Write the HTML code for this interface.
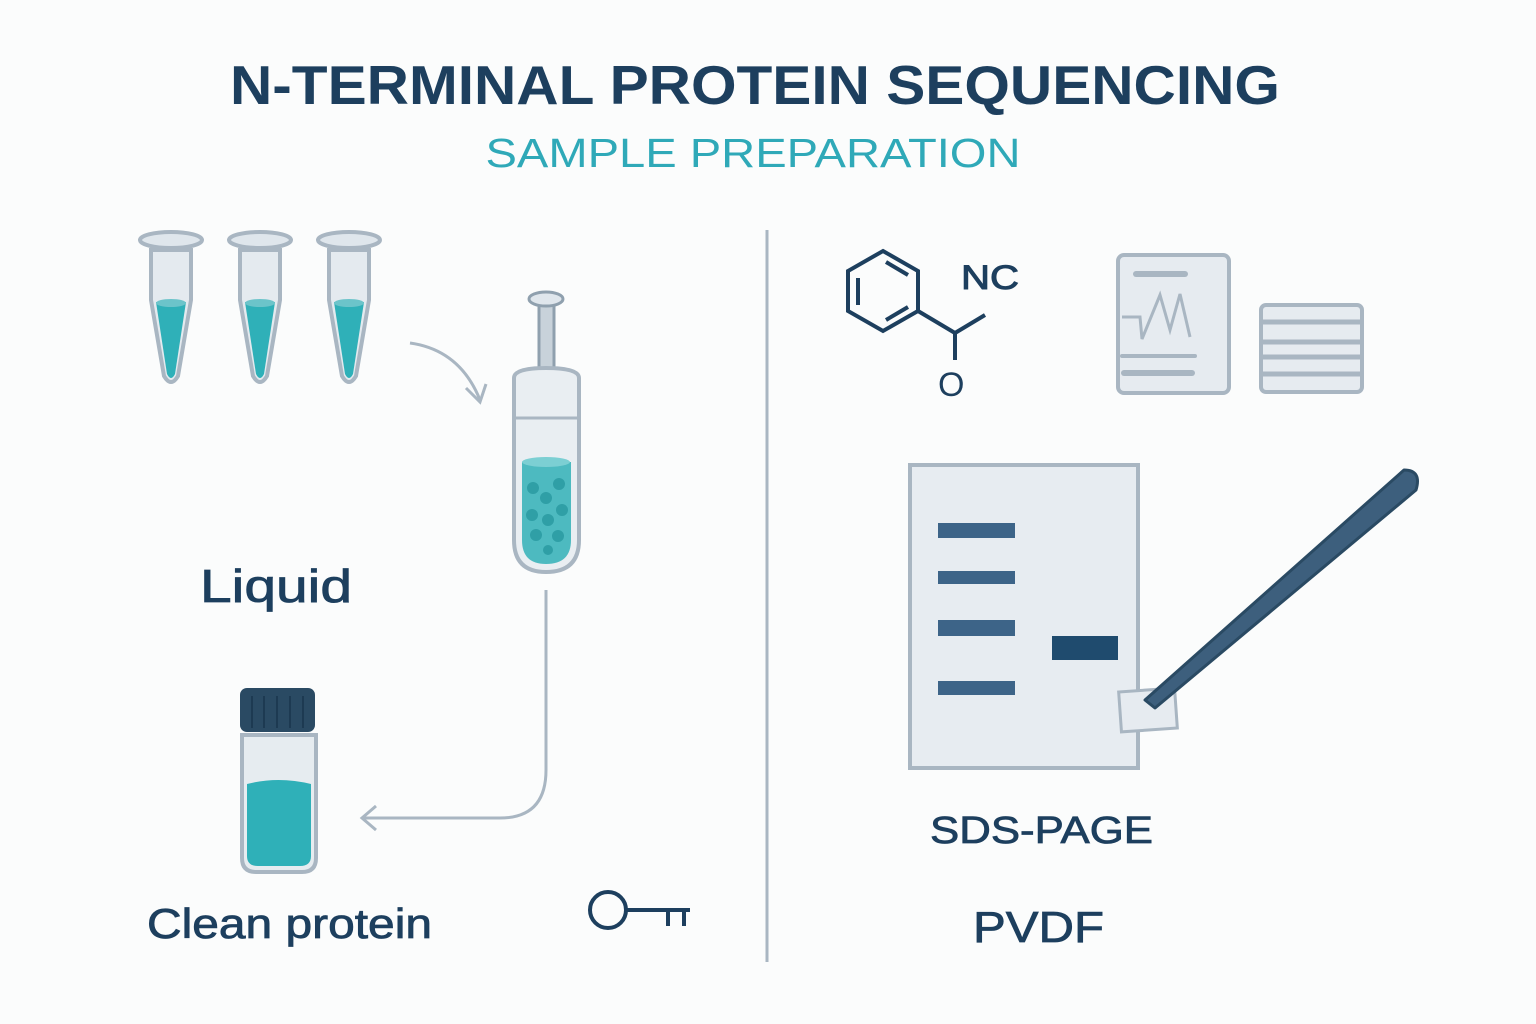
<!DOCTYPE html>
<html><head><meta charset="utf-8"><style>
html,body{margin:0;padding:0;background:#fbfcfc;}
svg{display:block;}
text{font-family:"Liberation Sans",sans-serif;}
</style></head><body>
<svg width="1536" height="1024" viewBox="0 0 1536 1024" xmlns="http://www.w3.org/2000/svg">
<rect width="1536" height="1024" fill="#fbfcfc"/>
<text x="755" y="104" text-anchor="middle" font-size="55" font-weight="bold" fill="#1d3f5e" textLength="1050" lengthAdjust="spacingAndGlyphs">N-TERMINAL PROTEIN SEQUENCING</text>
<text x="753" y="167" text-anchor="middle" font-size="41" fill="#2fa9b8" textLength="535" lengthAdjust="spacingAndGlyphs">SAMPLE PREPARATION</text>
<line x1="767" y1="230" x2="767" y2="962" stroke="#a9b6c2" stroke-width="3"/>

<!-- tubes -->
<g id="tube">
<path d="M151 250 L151 300 L164 376 Q171 388 178 376 L191 300 L191 250 Z" fill="#e4eaef" stroke="#a9b6c2" stroke-width="4"/>
<path d="M156 302 L186 302 L175 374 Q171 382 167 374 Z" fill="#2fb0b8"/>
<ellipse cx="171" cy="303" rx="15" ry="4" fill="#6cc4ca"/>
<ellipse cx="171" cy="240" rx="31" ry="8" fill="#dfe6ec" stroke="#a9b6c2" stroke-width="4"/>
</g>
<use href="#tube" x="89"/>
<use href="#tube" x="178"/>

<!-- arrow to syringe -->
<path d="M410 343 Q460 350 480 400" fill="none" stroke="#a9b6c2" stroke-width="3"/>
<path d="M466 388 L480 402 L486 384" fill="none" stroke="#a9b6c2" stroke-width="3"/>

<!-- syringe -->
<rect x="539" y="303" width="15" height="78" fill="#c8d2da" stroke="#8fa0ae" stroke-width="3"/>
<ellipse cx="546" cy="299" rx="17" ry="7" fill="#dfe6ec" stroke="#8fa0ae" stroke-width="3"/>
<path d="M514 378 L514 540 Q514 572 546 572 Q579 572 579 540 L579 378 Q579 368 546 368 Q514 368 514 378 Z" fill="#e9eef2" stroke="#a9b6c2" stroke-width="4"/>
<line x1="514" y1="418" x2="579" y2="418" stroke="#a9b6c2" stroke-width="3"/>
<path d="M522 462 L571 462 L571 540 Q571 564 546 564 Q522 564 522 540 Z" fill="#4dbac0"/>
<ellipse cx="546" cy="462" rx="24" ry="5" fill="#7ccfd3"/>
<g fill="#2f9fa6"><circle cx="533" cy="488" r="6"/><circle cx="559" cy="484" r="6"/><circle cx="546" cy="498" r="6"/><circle cx="562" cy="510" r="6"/><circle cx="532" cy="515" r="6"/><circle cx="548" cy="520" r="6"/><circle cx="536" cy="535" r="6"/><circle cx="558" cy="536" r="6"/><circle cx="548" cy="550" r="5"/></g>

<!-- line to bottle -->
<path d="M546 590 L546 770 Q546 818 500 818 L362 818" fill="none" stroke="#a9b6c2" stroke-width="3"/>
<path d="M376 806 L362 818 L376 830" fill="none" stroke="#a9b6c2" stroke-width="3"/>

<!-- bottle -->
<path d="M242 735 L242 858 Q242 872 256 872 L302 872 Q316 872 316 858 L316 735 Z" fill="#e6ecf0" stroke="#a9b6c2" stroke-width="4"/>
<path d="M247 784 Q278 776 311 784 L311 856 Q311 866 300 866 L258 866 Q247 866 247 856 Z" fill="#2fb0b8"/>
<rect x="240" y="688" width="75" height="44" rx="7" fill="#2a4a63"/>
<g stroke="#1d3a52" stroke-width="2"><line x1="252" y1="696" x2="252" y2="728"/><line x1="264" y1="696" x2="264" y2="728"/><line x1="277" y1="696" x2="277" y2="728"/><line x1="290" y1="696" x2="290" y2="728"/><line x1="303" y1="696" x2="303" y2="728"/></g>

<text x="200" y="602" font-size="46" fill="#1d3f5e" stroke="#1d3f5e" stroke-width="0.8" textLength="152" lengthAdjust="spacingAndGlyphs">Liquid</text>
<text x="147" y="938" font-size="42" fill="#1d3f5e" stroke="#1d3f5e" stroke-width="0.8" textLength="285" lengthAdjust="spacingAndGlyphs">Clean protein</text>

<!-- key -->
<circle cx="608" cy="910" r="18" fill="none" stroke="#1d3f5e" stroke-width="4"/>
<path d="M626 910 L690 910 M668 910 L668 926 M684 910 L684 926" fill="none" stroke="#1d3f5e" stroke-width="4"/>

<!-- molecule -->
<g fill="none" stroke="#1d3f5e" stroke-width="4">
<polygon points="883,251 918,271 918,311 883,331 848,311 848,271"/>
<line x1="858" y1="278" x2="858" y2="305"/><line x1="886" y1="262" x2="908" y2="275"/><line x1="886" y1="320" x2="908" y2="307"/>
<line x1="918" y1="311" x2="955" y2="333"/><line x1="955" y1="333" x2="985" y2="315"/><line x1="955" y1="333" x2="955" y2="360"/>
</g>
<text x="961" y="289" font-size="34" fill="#1d3f5e" stroke="#1d3f5e" stroke-width="1" textLength="58" lengthAdjust="spacingAndGlyphs">NC</text>
<text x="938" y="396" font-size="34" fill="#1d3f5e">O</text>

<!-- document -->
<rect x="1118" y="255" width="111" height="138" rx="6" fill="#e6ebf0" stroke="#a9b6c2" stroke-width="4"/>
<line x1="1136" y1="274" x2="1185" y2="274" stroke="#a9b6c2" stroke-width="6" stroke-linecap="round"/>
<polyline points="1122,317 1140,317 1142,339 1160,295 1170,330 1180,294 1190,337" fill="none" stroke="#a9b6c2" stroke-width="3"/>
<line x1="1122" y1="356" x2="1195" y2="356" stroke="#a9b6c2" stroke-width="4" stroke-linecap="round"/>
<line x1="1124" y1="373" x2="1192" y2="373" stroke="#a9b6c2" stroke-width="6" stroke-linecap="round"/>
<rect x="1261" y="305" width="101" height="87" rx="5" fill="#e6ebf0" stroke="#a9b6c2" stroke-width="4"/>
<g stroke="#a9b6c2" stroke-width="5"><line x1="1261" y1="322" x2="1362" y2="322"/><line x1="1261" y1="342" x2="1362" y2="342"/><line x1="1261" y1="357" x2="1362" y2="357"/><line x1="1261" y1="374" x2="1362" y2="374"/></g>

<!-- gel -->
<rect x="910" y="465" width="228" height="303" fill="#e7ecf1" stroke="#a9b6c2" stroke-width="4"/>
<g fill="#3d6488"><rect x="938" y="523" width="77" height="15"/><rect x="938" y="571" width="77" height="13"/><rect x="938" y="620" width="77" height="16"/><rect x="938" y="681" width="77" height="14"/></g>
<rect x="1052" y="636" width="66" height="24" fill="#1f4b6e"/>
<rect x="1120" y="690" width="56" height="40" fill="#e6ebf0" stroke="#a9b6c2" stroke-width="3" transform="rotate(-4 1148 710)"/>
<path d="M1145 700 L1404 470 Q1422 470 1416 490 L1155 708 Z" fill="#3d5f7d" stroke="#2a4a63" stroke-width="3" stroke-linejoin="round"/>

<text x="930" y="843" font-size="38" fill="#1d3f5e" stroke="#1d3f5e" stroke-width="0.8" textLength="223" lengthAdjust="spacingAndGlyphs">SDS-PAGE</text>
<text x="973" y="942" font-size="44" fill="#1d3f5e" stroke="#1d3f5e" stroke-width="0.8" textLength="131" lengthAdjust="spacingAndGlyphs">PVDF</text>
</svg>
</body></html>
